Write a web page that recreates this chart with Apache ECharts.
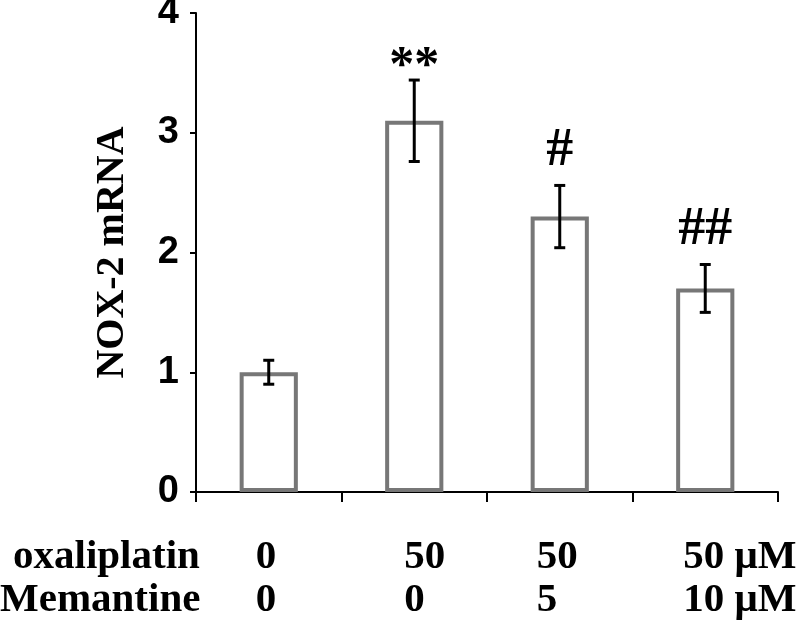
<!DOCTYPE html>
<html><head><meta charset="utf-8">
<script src="https://cdn.jsdelivr.net/npm/echarts@6/dist/echarts.min.js"></script>
<style>html,body{margin:0;padding:0;background:#fff}#c{width:800px;height:621px}</style>
</head><body><div id="c"></div>
<script>
const categories = ['ctrl', 'oxa', 'oxa+mem5', 'oxa+mem10'];
const values = [1.0, 3.1, 2.3, 1.7];
const errors = [0.1, 0.34, 0.26, 0.2];
const marks = ['', '**', '#', '##'];
const oxaliplatin = ['0', '50', '50', '50 μM'];
const memantine = ['0', '0', '5', '10 μM'];
const rowNames = ['oxaliplatin', 'Memantine'];
const yMin = 0, yMax = 4, yStep = 1;

const chart = echarts.init(document.getElementById('c'), null, {renderer: 'canvas'});
const serif = '"Liberation Serif", "Times New Roman", serif';

chart.setOption({
  animation: false,
  backgroundColor: '#fff',
  grid: {left: 196, right: 22, top: 13, bottom: 129, containLabel: false, outerBoundsMode: 'none'},
  xAxis: {
    type: 'category', data: categories,
    axisLine: {lineStyle: {color: '#000', width: 2}},
    axisTick: {show: true, length: 10, lineStyle: {color: '#000', width: 2}},
    axisLabel: {show: false},
    splitLine: {show: false}
  },
  yAxis: {
    type: 'value', min: yMin, max: yMax, interval: yStep,
    name: 'NOX-2 mRNA', nameLocation: 'middle', nameGap: 63, nameRotate: 90,
    nameTextStyle: {fontFamily: serif, fontWeight: 'bold', fontSize: 40, color: '#000'},
    axisLine: {show: true, lineStyle: {color: '#000', width: 2}},
    axisTick: {show: true, length: 6, lineStyle: {color: '#000', width: 2}},
    axisLabel: {
      margin: 17,
      fontFamily: 'Arial', fontWeight: 900, fontSize: 38, color: '#000'
    },
    splitLine: {show: false}
  },
  series: [
    {
      type: 'bar', data: values, barWidth: '40%',
      itemStyle: {color: '#fff', borderColor: '#777', borderWidth: 4},
      silent: true
    },
    {
      type: 'custom',
      data: values.map((v, i) => [i, v, errors[i]]),
      renderItem: function (params, api) {
        const i = api.value(0), v = api.value(1), e = api.value(2);
        const m = marks[i];
        const top = api.coord([i, v + e]);
        const bot = api.coord([i, v - e]);
        const cap = 5.5;
        const children = [
          {type: 'line', shape: {x1: top[0], y1: top[1], x2: bot[0], y2: bot[1]}, style: {stroke: '#000', lineWidth: 3}},
          {type: 'line', shape: {x1: top[0] - cap, y1: top[1], x2: top[0] + cap, y2: top[1]}, style: {stroke: '#000', lineWidth: 3}},
          {type: 'line', shape: {x1: bot[0] - cap, y1: bot[1], x2: bot[0] + cap, y2: bot[1]}, style: {stroke: '#000', lineWidth: 3}}
        ];
        if (m) {
          const star = m.indexOf('*') >= 0;
          const dy = star ? 13 : 34;
          children.push({type: 'text', style: {
            text: m, x: top[0], y: top[1] - dy, align: 'center', verticalAlign: 'middle',
            font: 'bold ' + (star ? 50 : 54) + 'px ' + serif, fill: '#000'
          }});
        }
        return {type: 'group', children: children};
      },
      z: 5
    }
  ]
});

const colOffsets = [-13, -10, -23, -22];
const rowY = [557, 600];
const g = [];
rowNames.forEach((n, r) => {
  g.push({type: 'text', x: r === 0 ? 13 : 0, y: rowY[r],
    style: {text: n, font: 'bold 41px ' + serif, fill: '#000', verticalAlign: 'middle'}});
});
[oxaliplatin, memantine].forEach((row, r) => {
  row.forEach((t, i) => {
    const x = chart.convertToPixel({xAxisIndex: 0}, categories[i]) + colOffsets[i];
    g.push({type: 'text', x: x, y: rowY[r],
      style: {text: t, font: 'bold 41px ' + serif, fill: '#000', align: 'left', verticalAlign: 'middle'}});
  });
});
chart.setOption({graphic: g});
</script></body></html>
